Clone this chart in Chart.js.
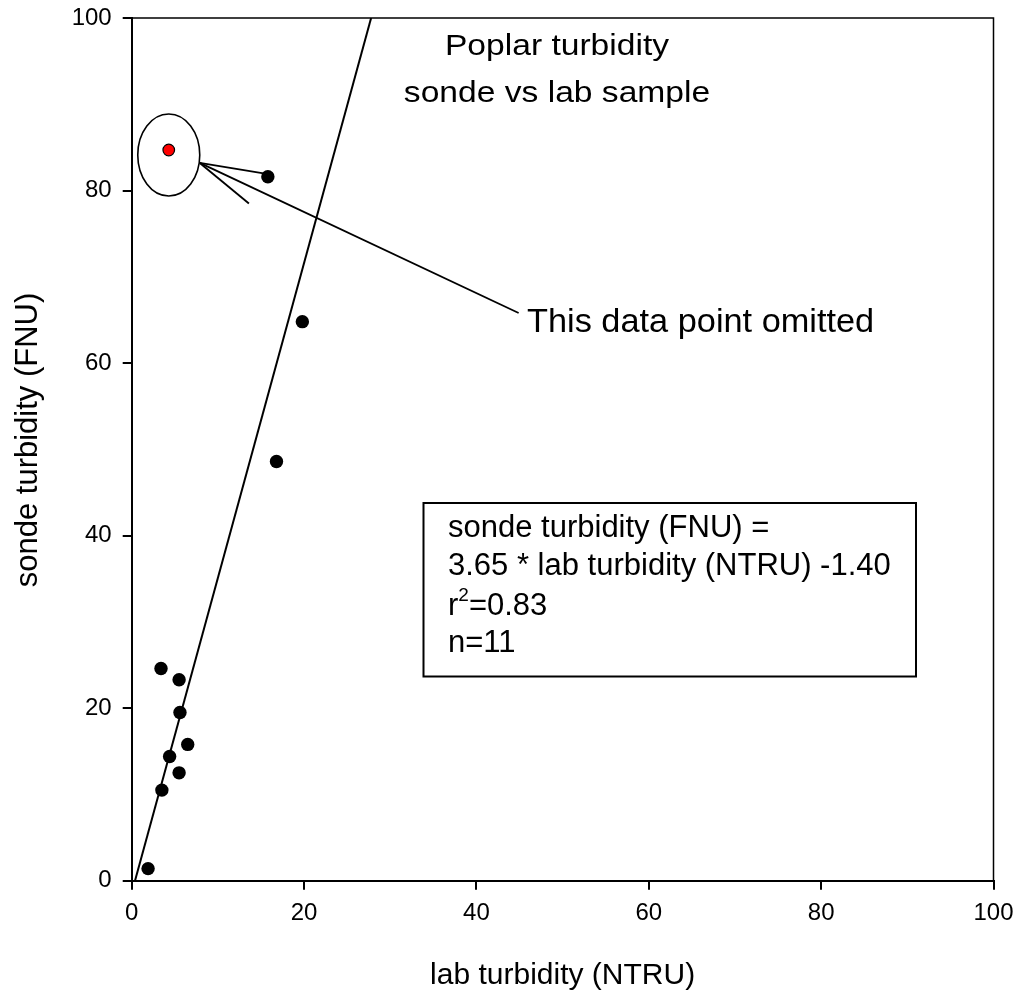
<!DOCTYPE html>
<html>
<head>
<meta charset="utf-8">
<script src="https://cdn.jsdelivr.net/npm/chart.js@4.4.1/dist/chart.umd.min.js"></script>
<style>
  html, body { margin: 0; padding: 0; background: #fff; }
</style>
</head>
<body>
<canvas id="turbidity-chart" width="1018" height="991"></canvas>
<script>
// paired samples used in the fit
const labTurbidity   = [3.4, 5.5, 5.6, 6.5, 4.4, 5.5, 3.5, 1.9, 15.8, 19.8, 16.8];
const sondeTurbidity = [24.6, 23.3, 19.5, 15.8, 14.4, 12.5, 10.5, 1.4, 81.6, 64.8, 48.6];
// the sample left out of the regression
const omittedLab   = [4.3];
const omittedSonde = [84.7];
// regression: sonde = slope * lab + intercept
const fitSlope = 3.65;
const fitIntercept = -1.40;
const axisTicks = [0, 20, 40, 60, 80, 100];

const FONT = "'Liberation Sans', Arial, Helvetica, sans-serif";

document.addEventListener("DOMContentLoaded", function() {

  const fitLine = [0, 100].map(v => ({ x: (v - fitIntercept) / fitSlope, y: v }));

  // text drawn with a horizontal stretch factor
  function stretchText(ctx, text, x, y, size, sx, align) {
    ctx.save();
    ctx.font = size + 'px ' + FONT;
    ctx.textAlign = align || 'left';
    ctx.textBaseline = 'alphabetic';
    ctx.translate(x, y);
    ctx.scale(sx, 1);
    ctx.fillText(text, 0, 0);
    ctx.restore();
  }

  const decorations = {
    id: 'decorations',
    afterDatasetsDraw(chart) {
      const { ctx, chartArea: a, scales: { x, y } } = chart;
      ctx.save();
      ctx.strokeStyle = '#000';
      ctx.fillStyle = '#000';

      // top and right frame
      ctx.lineWidth = 1.5;
      ctx.beginPath();
      ctx.moveTo(a.left, a.top);
      ctx.lineTo(a.right, a.top);
      ctx.lineTo(a.right, a.bottom);
      ctx.stroke();

      // ring around the omitted sample
      const ox = x.getPixelForValue(omittedLab[0]);
      const oy = y.getPixelForValue(omittedSonde[0]);
      ctx.lineWidth = 1.6;
      ctx.beginPath();
      ctx.ellipse(ox, oy + 5, 31, 41, 0, 0, Math.PI * 2);
      ctx.stroke();

      // arrow pointing at the ring
      const apex = [x.getPixelForValue(7.9), y.getPixelForValue(83.2)];
      const ends = [[15.3, 82.0], [13.6, 78.5], [44.9, 65.8]];
      ctx.lineWidth = 1.8;
      ends.forEach(e => {
        ctx.beginPath();
        ctx.moveTo(apex[0], apex[1]);
        ctx.lineTo(x.getPixelForValue(e[0]), y.getPixelForValue(e[1]));
        ctx.stroke();
      });

      // titles
      stretchText(ctx, 'Poplar turbidity', 557, 55, 30, 1.12, 'center');
      stretchText(ctx, 'sonde vs lab sample', 557, 101.5, 30, 1.12, 'center');
      stretchText(ctx, 'This data point omitted', 527, 331.5, 33, 1.04, 'left');

      // regression box
      ctx.lineWidth = 2;
      ctx.strokeRect(423.5, 503, 492.5, 173.5);
      const tx = 448;
      stretchText(ctx, 'sonde turbidity (FNU) =', tx, 536.5, 31, 1, 'left');
      stretchText(ctx, '3.65 * lab turbidity (NTRU) -1.40', tx, 575, 31, 1, 'left');
      ctx.font = '31px ' + FONT;
      ctx.textAlign = 'left';
      ctx.fillText('r', tx, 615);
      const rw = ctx.measureText('r').width;
      ctx.font = '19px ' + FONT;
      ctx.fillText('2', tx + rw, 601);
      const sw = ctx.measureText('2').width;
      ctx.font = '31px ' + FONT;
      ctx.fillText('=0.83', tx + rw + sw, 615);
      ctx.fillText('n=11', tx, 651.5);

      // axis titles
      stretchText(ctx, 'lab turbidity (NTRU)', (a.left + a.right) / 2, 984, 30, 1, 'center');
      ctx.save();
      ctx.translate(37, 440);
      ctx.rotate(-Math.PI / 2);
      ctx.font = '31px ' + FONT;
      ctx.textAlign = 'center';
      ctx.fillText('sonde turbidity (FNU)', 0, 0);
      ctx.restore();

      ctx.restore();
    }
  };

  const axisCommon = {
    type: 'linear',
    min: 0,
    max: 100,
    afterBuildTicks: s => { s.ticks = axisTicks.map(v => ({ value: v })); },
    ticks: { color: '#000', font: { family: FONT, size: 24 }, maxRotation: 0 },
    grid: { drawOnChartArea: false, drawTicks: true, tickLength: 9, color: '#000', lineWidth: 2 },
    border: { color: '#000', width: 2 }
  };

  new Chart(document.getElementById('turbidity-chart').getContext('2d'), {
    type: 'scatter',
    data: {
      datasets: [{
        label: 'omitted',
        data: omittedLab.map((v, i) => ({ x: v, y: omittedSonde[i] })),
        backgroundColor: '#ff0000',
        borderColor: '#000',
        borderWidth: 1.2,
        pointRadius: 5.8
      }, {
        label: 'samples',
        data: labTurbidity.map((v, i) => ({ x: v, y: sondeTurbidity[i] })),
        backgroundColor: '#000',
        borderColor: '#000',
        borderWidth: 0,
        pointRadius: 6.7
      }, {
        label: 'fit',
        type: 'line',
        data: fitLine,
        borderColor: '#000',
        borderWidth: 2,
        pointRadius: 0,
        showLine: true,
        fill: false
      }]
    },
    options: {
      responsive: false,
      animation: false,
      layout: { padding: { top: 18, right: 24.5, left: 0, bottom: 0 } },
      plugins: { legend: { display: false }, tooltip: { enabled: false } },
      scales: {
        x: Object.assign({}, axisCommon, {
          ticks: Object.assign({}, axisCommon.ticks, { padding: 9 }),
          afterFit: s => {
            s.height = 110.3;
            s.paddingLeft = 0;
            s.paddingRight = 0;
          }
        }),
        y: Object.assign({}, axisCommon, {
          ticks: Object.assign({}, axisCommon.ticks, { padding: 11 }),
          afterFit: s => {
            s.width = 131.7;
            s.paddingTop = 0;
            s.paddingBottom = 0;
          }
        })
      }
    },
    plugins: [decorations]
  });
});
</script>
</body>
</html>
